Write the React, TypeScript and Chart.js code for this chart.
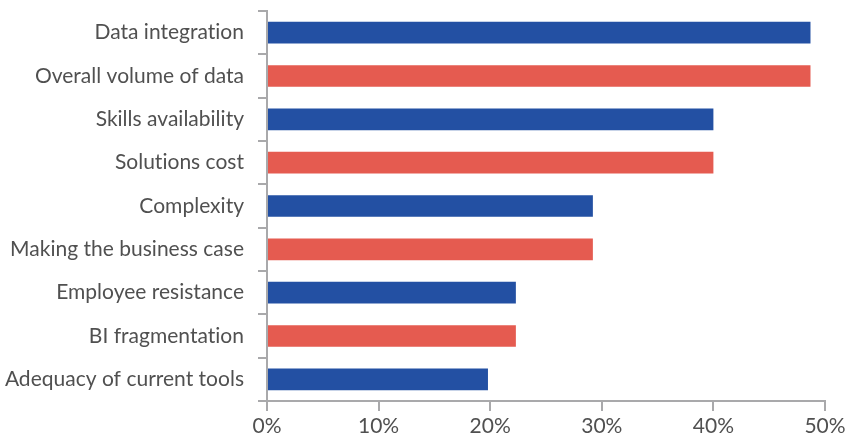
import React, { useEffect, useRef } from "react";
import { Chart, registerables } from "chart.js";

Chart.register(...registerables);

const categories = [
  "Data integration",
  "Overall volume of data",
  "Skills availability",
  "Solutions cost",
  "Complexity",
  "Making the business case",
  "Employee resistance",
  "BI fragmentation",
  "Adequacy of current tools",
];
const values = [48.7, 48.7, 40, 40, 29.2, 29.2, 22.3, 22.3, 19.8];
const barColors = [
  "#2350A3", "#E55B50", "#2350A3", "#E55B50", "#2350A3",
  "#E55B50", "#2350A3", "#E55B50", "#2350A3",
];
const xTicks = [0, 10, 20, 30, 40, 50];

const noLigatures = {
  id: "noLigatures",
  beforeDraw(chart: any) {
    try {
      chart.ctx.letterSpacing = "0.01px";
    } catch (e) {}
  },
};

export default function App() {
  const ref = useRef<HTMLCanvasElement | null>(null);
  useEffect(() => {
    document.body.style.margin = "0";
    const axisColor = "#A9A9AB";
    const font = { family: "Lato", size: 21 };
    const chart = new Chart(ref.current!, {
      type: "bar",
      data: {
        labels: categories,
        datasets: [
          {
            data: values,
            backgroundColor: barColors,
            categoryPercentage: 0.5,
            barPercentage: 1,
          },
        ],
      },
      plugins: [noLigatures],
      options: {
        indexAxis: "y",
        animation: false,
        responsive: false,
        maintainAspectRatio: false,
        layout: { padding: { top: 11, right: 23, left: 0, bottom: 0 } },
        plugins: { legend: { display: false }, tooltip: { enabled: false } },
        scales: {
          x: {
            min: 0,
            max: 50,
            afterBuildTicks: (s: any) => {
              s.ticks = xTicks.map((v) => ({ value: v }));
            },
            afterFit: (s: any) => {
              s.height = 36;
              s.paddingLeft = 0;
              s.paddingRight = 0;
            },
            border: { color: axisColor, width: 2 },
            grid: {
              drawOnChartArea: false,
              drawTicks: true,
              tickLength: 10,
              color: axisColor,
              lineWidth: 2,
            },
            ticks: {
              color: "#505050",
              font,
              padding: 3,
              callback: (v: any) => v + "%",
            },
          },
          y: {
            afterFit: (s: any) => {
              s.width = 267;
              s.paddingTop = 0;
              s.paddingBottom = 0;
            },
            border: { color: axisColor, width: 2 },
            grid: {
              offset: true,
              drawOnChartArea: false,
              drawTicks: true,
              tickLength: 9,
              color: axisColor,
              lineWidth: 2,
            },
            ticks: { color: "#505050", font, padding: 14 },
          },
        },
      },
    });
    return () => chart.destroy();
  }, []);
  return (
    <div style={{ position: "fixed", left: 0, top: 0, width: 848, height: 437 }}>
      <canvas ref={ref} width={848} height={437} />
    </div>
  );
}
